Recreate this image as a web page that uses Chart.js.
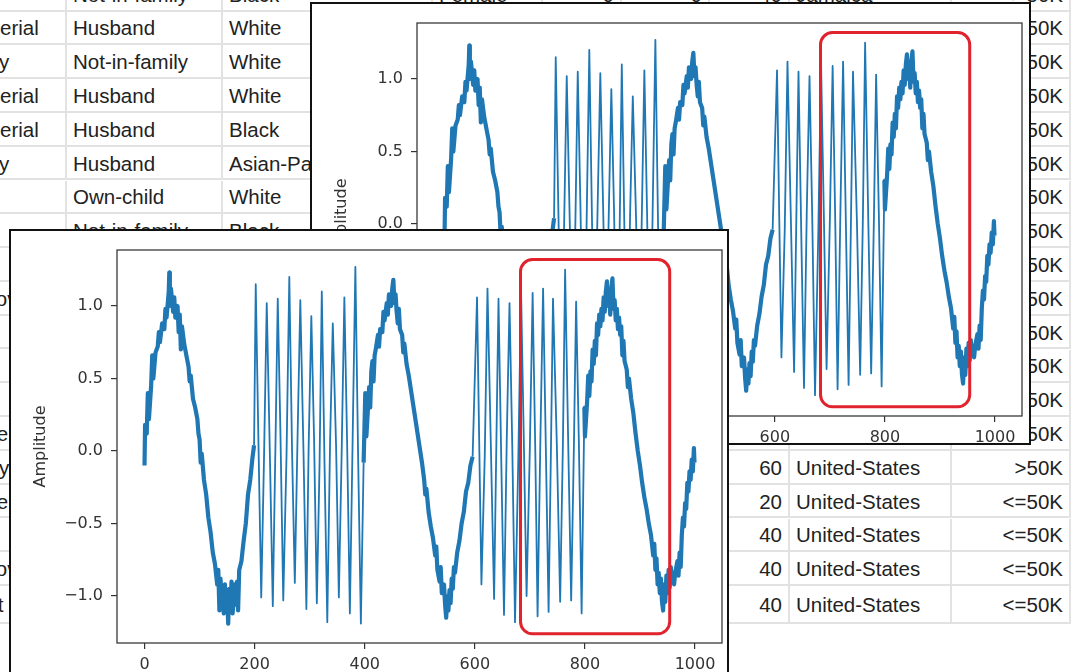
<!DOCTYPE html>
<html lang="en">
<head>
<meta charset="UTF-8">
<title>Amplitude</title>
<script src="https://cdn.jsdelivr.net/npm/chart.js@4"></script>
<style>
    html, body { margin: 0; padding: 0; background: #fff; overflow: hidden; }
    body { width: 1086px; height: 672px; position: relative; }
    #sheet {
        position: absolute; left: 0; top: 0; width: 1086px; height: 672px; overflow: hidden;
        font-family: "Liberation Sans", Arial, sans-serif; font-size: 20.5px; color: #222;
    }
    .cell {
        position: absolute; box-sizing: border-box; white-space: nowrap; overflow: hidden;
        border-right: 2px solid #e2e2e2; border-bottom: 2px solid #e2e2e2;
        padding: 2px 6px 0 6px; display: flex; align-items: center;
    }
    .cell.r { justify-content: flex-end; }
    .shot { position: absolute; box-sizing: border-box; border: 2px solid #111; background: #fff; }
    .shot canvas { display: block; }
</style>
</head>
<body>

<div id="sheet"></div>

<div class="shot" style="left:310px; top:2px; width:721px; height:443px;">
    <canvas id="chartBack" width="717" height="439"></canvas>
</div>
<div class="shot" style="left:9px; top:229px; width:720px; height:446px;">
    <canvas id="chartFront" width="716" height="442"></canvas>
</div>

<script>
    // signal in pieces (slow wave / fast wave)
    const slowA_x = [0,1,4,6,8,12,14,16,20,24, 26,28,32,36,38,40,44,45,46,48, 52,54,56,60,62,64,66,68,72,76,
        80,82,84,88,92,96,98,100,102,104, 108,112,116,120,124,128,132,134,136,138, 140,144,146,148,150,152,154,156,158,160,
        164,166,168,170,172,176,180,184,188,192, 196,199];
    const slowA_y = [-0.10,0.18,0.12,0.40,0.22,0.45,0.66,0.50,0.68,0.72, 0.82,0.75,0.88,0.84,0.98,0.92,1.10,1.23,1.00,1.12,
        0.96,1.06,0.92,1.00,0.82,0.94,0.70,0.86,0.74,0.66, 0.58,0.48,0.52,0.36,0.30,0.22,0.12,0.08,-0.08,-0.02,
        -0.20,-0.30,-0.46,-0.56,-0.70,-0.78,-0.92,-0.82,-1.10,-0.88, -1.00,-1.12,-0.92,-1.08,-0.96,-1.19,-0.95,-1.10,-0.90,-1.12,
        -0.92,-1.06,-0.90,-1.10,-0.82,-0.76,-0.62,-0.50,-0.30,-0.20, -0.05,0.04];

    const fastB_x = [202,207,212,217, 222,228,233,238, 242,247,252,258, 263,268,273,278, 283,289,294,298,
        303,308,313,318, 322,327,332,337, 342,348,353,358, 363,368,373,378, 383,388,393,398];
    const fastB_y = [1.15,0.05,-1.01,-0.06, 1.02,-0.08,-1.07,0.08, 1.05,0.10,-1.03,-0.02, 1.20,0.00,-0.91,0.10,
        1.04,-0.05,-1.09,0.00, 0.93,0.08,-1.05,-0.08, 1.10,-0.10,-1.18,0.05, 0.88,0.03,-1.01,-0.03,
        1.06,0.06,-1.12,0.07, 1.27,-0.04,-1.19,-0.08];

    const slowC_x = [401,403,406,408,410,412,414,416,418,420, 424,426,428,432,434,436,440,442,444,448,
        450,452,454,456,458,460,462,464,468,470, 472,476,480,484,488,492,496,500,504,508,
        510,512,516,520,524,528,530,532,536,538, 540,544,546,548,550,552,554,556,558,560,
        562,564,568,572,576,580,584,588,592,596];
    const slowC_y = [0.40,0.10,0.30,0.44,0.30,0.55,0.62,0.48,0.66,0.70, 0.80,0.72,0.84,0.82,0.96,0.90,1.02,0.94,1.08,1.00,
        1.12,1.18,1.02,1.08,0.96,0.88,0.98,0.84,0.80,0.68, 0.74,0.60,0.52,0.42,0.32,0.22,0.12,0.02,-0.08,-0.20,
        -0.30,-0.26,-0.42,-0.52,-0.60,-0.72,-0.66,-0.82,-0.90,-0.80, -0.98,-0.92,-1.06,-1.15,-1.00,-1.10,-0.96,-1.05,-0.88,-0.95,
        -0.80,-0.84,-0.70,-0.62,-0.50,-0.42,-0.28,-0.22,-0.10,-0.04];

    const fastD_x = [604,608,612,618, 623,629,635,639, 643,648,653,658, 663,668,673,679, 684,689,694,700,
        705,710,714,719, 724,729,734,738, 742,749,755,760, 764,770,775,780, 784,789,794];
    const fastD_y = [1.06,0.05,-0.92,-0.04, 1.12,0.06,-1.02,0.02, 1.05,-0.06,-1.13,0.08, 1.02,0.04,-1.18,-0.05,
        1.10,0.07,-1.00,0.03, 1.09,-0.04,-1.14,0.06, 1.12,0.02,-1.11,-0.06, 1.05,0.04,-1.04,0.05,
        1.25,-0.02,-1.03,0.04, 1.03,0.06,-1.12];

    const slowE_x = [799,800,802,804,806,808,810,812,814,816, 818,820,822,824,826,828,830,832,834,836,
        838,840,842,844,846,848,850,852,854,856, 858,860,862,864,866,868,870,872,876,878,
        880,884,888,892,896,900,904,908,912,916, 920,924,926,928,930,932,934,936,938,940,
        942,944,946,948,950,952,954,956,958,960, 962,964,968,970,972,974,976,978,980,982,
        984,986,988,990,992,994,996,998,999];
    const slowE_y = [0.30,0.10,0.22,0.34,0.52,0.38,0.55,0.48,0.70,0.60, 0.76,0.66,0.88,0.80,0.94,0.86,0.98,0.90,1.06,0.96,
        1.10,1.17,1.00,1.08,0.94,1.12,1.19,0.98,1.04,0.90, 0.98,0.84,0.92,0.80,0.86,0.66,0.76,0.62,0.56,0.44,
        0.50,0.36,0.26,0.12,0.00,-0.10,-0.22,-0.32,-0.40,-0.50, -0.58,-0.72,-0.64,-0.82,-0.74,-0.92,-0.84,-0.98,-0.88,-1.04,
        -1.10,-0.92,-1.04,-0.86,-0.98,-0.82,-0.94,-0.80,-0.90,-0.84, -0.92,-0.84,-0.76,-0.86,-0.70,-0.80,-0.58,-0.46,-0.52,-0.36,
        -0.40,-0.22,-0.28,-0.14,-0.20,-0.06,-0.14,0.02,-0.08];

    const xTicks = [0, 200, 400, 600, 800, 1000];
    const yTicks = [-1.0, -0.5, 0.0, 0.5, 1.0];
    const highlightX = [683, 954];
    const highlightY = [-1.26, 1.32];

    // table in the background
    const tableRows = [
        ['Sales', 'Not-in-family', 'Black', 'Female', '0', '0', '40', 'Jamaica', '<=50K'],
        ['Exec-managerial', 'Husband', 'White', 'Male', '0', '0', '45', 'United-States', '>50K'],
        ['Prof-specialty', 'Not-in-family', 'White', 'Female', '14084', '0', '50', 'United-States', '>50K'],
        ['Exec-managerial', 'Husband', 'White', 'Male', '5178', '0', '40', 'United-States', '>50K'],
        ['Exec-managerial', 'Husband', 'Black', 'Male', '0', '0', '80', 'United-States', '>50K'],
        ['Prof-specialty', 'Husband', 'Asian-Pac-Islander', 'Male', '0', '0', '40', 'India', '>50K'],
        ['Sales', 'Own-child', 'White', 'Female', '0', '0', '30', 'United-States', '<=50K'],
        ['Sales', 'Not-in-family', 'Black', 'Male', '0', '0', '50', 'United-States', '<=50K'],
        ['Sales', 'Unmarried', 'White', 'Female', '0', '0', '40', 'United-States', '<=50K'],
        ['Transport-moving', 'Husband', 'White', 'Male', '0', '0', '40', 'United-States', '<=50K'],
        ['Craft-repair', 'Husband', 'White', 'Male', '0', '0', '40', 'United-States', '<=50K'],
        ['Craft-repair', 'Husband', 'White', 'Male', '0', '0', '40', 'United-States', '<=50K'],
        ['Sales', 'Own-child', 'White', 'Male', '0', '0', '20', 'United-States', '<=50K'],
        ['Other-service', 'Unmarried', 'White', 'Female', '0', '0', '35', 'United-States', '<=50K'],
        ['Prof-specialty', 'Husband', 'White', 'Male', '0', '0', '60', 'United-States', '>50K'],
        ['Other-service', 'Own-child', 'White', 'Female', '0', '0', '20', 'United-States', '<=50K'],
        ['Craft-repair', 'Husband', 'White', 'Male', '0', '0', '40', 'United-States', '<=50K'],
        ['Transport-moving', 'Husband', 'White', 'Male', '0', '0', '40', 'United-States', '<=50K'],
        ['Tech-support', 'Not-in-family', 'White', 'Male', '0', '0', '40', 'United-States', '<=50K']
    ];

    function buildSheet() {
        const colEdges = [-121, 67, 223, 433, 543, 622, 710, 790, 952, 1071];
        const rightCols = [4, 5, 6, 8];
        const sheet = document.getElementById('sheet');
        tableRows.forEach((row, r) => {
            const top = 10 + (r - 1) * 33.8;
            const h = r === tableRows.length - 1 ? 37.7 : 33.8;
            row.forEach((txt, c) => {
                const d = document.createElement('div');
                d.className = 'cell' + (rightCols.includes(c) ? ' r' : '');
                d.style.left = colEdges[c] + 'px';
                d.style.width = (colEdges[c + 1] - colEdges[c]) + 'px';
                d.style.top = (top + 1.5) + 'px';
                d.style.height = h + 'px';
                d.textContent = txt;
                sheet.appendChild(d);
            });
        });
    }

    function signalPoints() {
        const pts = [];
        [[slowA_x, slowA_y], [fastB_x, fastB_y], [slowC_x, slowC_y], [fastD_x, fastD_y], [slowE_x, slowE_y]]
            .forEach(([xs, ys]) => xs.forEach((x, i) => pts.push({ x: x, y: ys[i] })));
        return pts;
    }

    const fastSpans = [[199, 399], [596, 799]];
    function isFast(a, b) {
        return fastSpans.some(s => a >= s[0] && b <= s[1]);
    }

    const framePlugin = {
        id: 'frame',
        afterDraw(chart) {
            const { ctx, chartArea: a, scales } = chart;
            ctx.save();
            // red box
            const x0 = scales.x.getPixelForValue(highlightX[0]);
            const x1 = scales.x.getPixelForValue(highlightX[1]);
            const y0 = scales.y.getPixelForValue(highlightY[1]);
            const y1 = scales.y.getPixelForValue(highlightY[0]);
            const rad = 12;
            ctx.beginPath();
            ctx.moveTo(x0 + rad, y0);
            ctx.lineTo(x1 - rad, y0);
            ctx.arcTo(x1, y0, x1, y0 + rad, rad);
            ctx.lineTo(x1, y1 - rad);
            ctx.arcTo(x1, y1, x1 - rad, y1, rad);
            ctx.lineTo(x0 + rad, y1);
            ctx.arcTo(x0, y1, x0, y1 - rad, rad);
            ctx.lineTo(x0, y0 + rad);
            ctx.arcTo(x0, y0, x0 + rad, y0, rad);
            ctx.closePath();
            ctx.strokeStyle = '#e0232c';
            ctx.lineWidth = 3;
            ctx.stroke();
            // axes frame
            ctx.strokeStyle = '#3a3a3a';
            ctx.lineWidth = 1.3;
            ctx.strokeRect(a.left, a.top, a.right - a.left, a.bottom - a.top);
            ctx.restore();
        }
    };

    function drawChart(id, geo) {
        const tickFont = { family: 'DejaVu Sans', size: 16 };
        new Chart(document.getElementById(id), {
            type: 'line',
            data: {
                datasets: [{
                    data: signalPoints(),
                    borderColor: '#1f77b4',
                    borderWidth: 4.2,
                    borderJoinStyle: 'round',
                    pointRadius: 0,
                    tension: 0,
                    fill: false,
                    segment: {
                        borderWidth: ctx => isFast(ctx.p0.parsed.x, ctx.p1.parsed.x) ? 1.8 : 4.2
                    }
                }]
            },
            options: {
                responsive: false,
                animation: false,
                events: [],
                layout: { padding: { top: 19, right: geo.right, left: 0, bottom: 0 } },
                plugins: { legend: { display: false }, tooltip: { enabled: false } },
                scales: {
                    x: {
                        type: 'linear',
                        min: -50,
                        max: 1049,
                        afterBuildTicks: s => { s.ticks = xTicks.map(v => ({ value: v })); },
                        afterFit: s => { s.height = geo.xh; },
                        border: { display: false },
                        grid: { drawOnChartArea: false, tickLength: 6, color: '#333', lineWidth: 1.2 },
                        ticks: { font: tickFont, color: '#333', padding: 6, maxRotation: 0, autoSkip: false,
                                 callback: v => String(v) }
                    },
                    y: {
                        min: -1.324,
                        max: 1.386,
                        afterBuildTicks: s => { s.ticks = yTicks.map(v => ({ value: v })); },
                        afterFit: s => { s.width = geo.yw; },
                        border: { display: false },
                        grid: { drawOnChartArea: false, tickLength: 6, color: '#333', lineWidth: 1.2 },
                        ticks: { font: tickFont, color: '#333', padding: 8, autoSkip: false,
                                 callback: v => v.toFixed(1).replace('-', '\u2212') },
                        title: { display: true, text: 'Amplitude', font: tickFont, color: '#333',
                                 padding: { top: 20, bottom: 0 } }
                    }
                }
            },
            plugins: [framePlugin]
        });
    }

    buildSheet();
    drawChart('chartBack', { right: 7, xh: 27, yw: 105 });
    drawChart('chartFront', { right: 5, xh: 30, yw: 106 });
</script>

</body>
</html>
